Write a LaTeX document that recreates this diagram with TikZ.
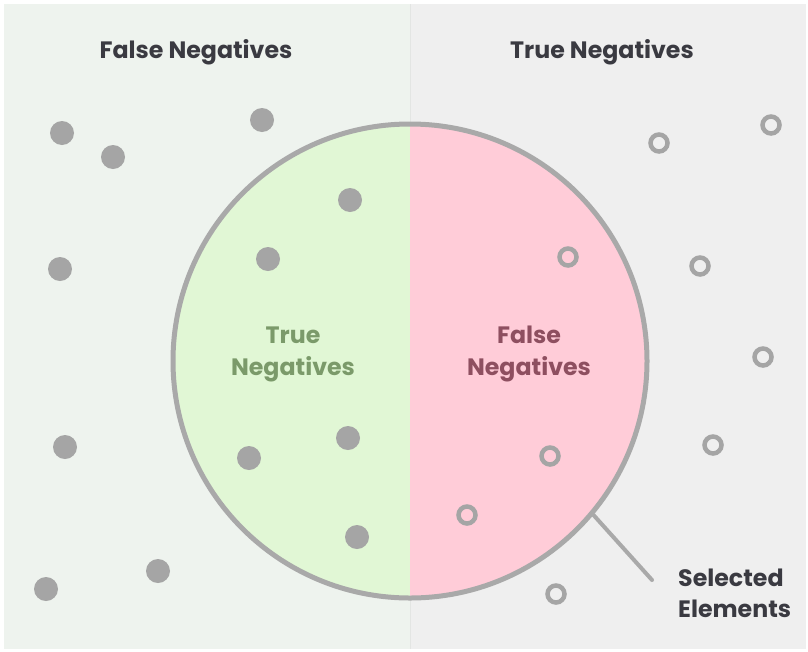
\documentclass[tikz,border=0pt]{standalone}
\usepackage{fontspec}
\setmainfont{Poppins}
\usepackage{xcolor}
\definecolor{fnpanel}{HTML}{EEF3EE}
\definecolor{tnpanel}{HTML}{EFEFEF}
\definecolor{divider}{HTML}{E3E5E3}
\definecolor{tnfill}{HTML}{E1F7D5}
\definecolor{fnfill}{HTML}{FFCCD8}
\definecolor{rimgray}{HTML}{A9A9A9}
\definecolor{dotgray}{HTML}{A5A5A5}
\definecolor{ink}{HTML}{3A3A41}
\definecolor{tntext}{HTML}{7B9A6A}
\definecolor{fntext}{HTML}{8E4F60}
\usepackage{tikz}
\usetikzlibrary{positioning}

\begin{document}
\begin{tikzpicture}[x=1pt, y=-1pt,
    heading/.style={font=\fontsize{23.7}{28}\selectfont\bfseries, text=ink},
    halflabel/.style={font=\fontsize{23.7}{32}\selectfont\bfseries, align=center},
    fulldot/.style={circle, fill=dotgray, inner sep=0pt, minimum size=24pt},
    ringdot/.style={circle, draw=dotgray, line width=4.5pt, inner sep=0pt, minimum size=17pt}]
    \useasboundingbox (0,0) rectangle (808,651);

    % Panels
    \fill[fnpanel] (4,4) rectangle (410,649);
    \fill[tnpanel] (410,4) rectangle (806,649);
    \draw[divider, line width=1pt] (410,4) -- (410,649);

    \node[heading] (fnhead) at (196,52) {False Negatives};
    \node[heading] (tnhead) at (602,52) {True Negatives};

    % Selected elements: two halves and the rim
    \fill[tnfill] (410,124) arc[start angle=270, end angle=90, radius=237] -- cycle;
    \fill[fnfill] (410,124) arc[start angle=-90, end angle=90, radius=237] -- cycle;
    \node[circle, draw=rimgray, line width=5pt, inner sep=0pt, minimum size=474pt] (sel) at (410,361) {};

    \node[halflabel, text=tntext] (tnlabel) at (293,354) {True\\Negatives};
    \node[halflabel, text=fntext] (fnlabel) at (529,354) {False\\Negatives};

    % Filled dots
    \foreach \px/\py [count=\i] in {62/133, 113/157, 262/120, 350/200, 60/269, 268/259,
        65/447, 249/458, 348/438, 357/537, 46/589, 158/571}
        \node[fulldot] (fd\i) at (\px,\py) {};

    % Open dots
    \foreach \px/\py [count=\i] in {659/143, 771/125, 568/257, 700/266, 763/357,
        713/445, 550/456, 467/515, 556/594}
        \node[ringdot] (od\i) at (\px,\py) {};

    % Leader to the label
    \node[font=\fontsize{23.7}{31}\selectfont\bfseries, text=ink, align=left, anchor=west, inner sep=0pt] (sellabel) at (678,593) {Selected\\Elements};
    \coordinate (selend) at (652,580);
    \draw[rimgray, line width=4pt, line cap=round] (sel.-40) -- (selend);
\end{tikzpicture}
\end{document}
